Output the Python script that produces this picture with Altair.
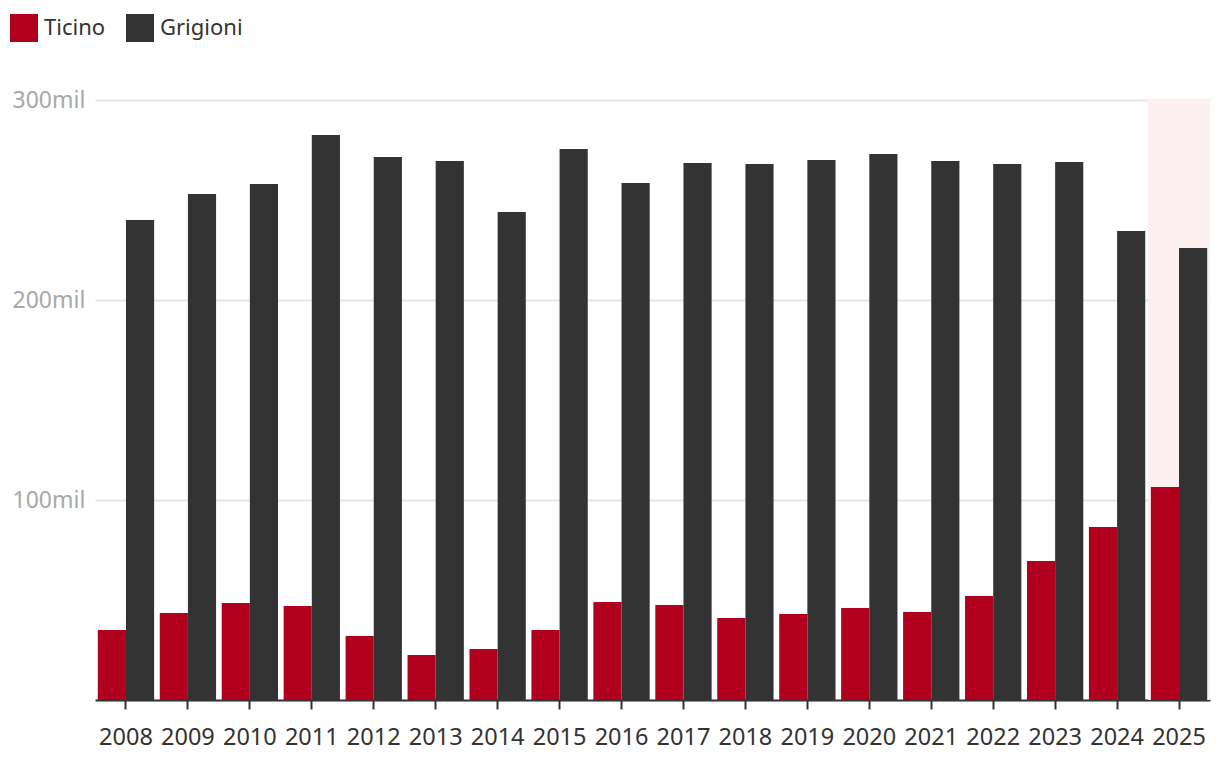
import altair as alt
import pandas as pd

years = [str(y) for y in range(2008, 2026)]
ticino = [35000, 43500, 48500, 47000, 32000, 22500, 25500, 35000, 49000, 47500,
          41000, 43000, 46000, 44000, 52000, 69500, 86500, 106500]
grigioni = [240000, 253000, 258000, 282500, 271500, 269500, 244000, 275500, 258500, 268500,
            268000, 270000, 273000, 269500, 268000, 269000, 234500, 226000]
regions = ["Ticino", "Grigioni"]
colors = ["#b0001e", "#333333"]
highlight_years = ["2025"]
y_ticks = [0, 100000, 200000, 300000]

rows = []
for yr, t, g in zip(years, ticino, grigioni):
    rows.append({"anno": yr, "regione": "Ticino", "valore": t})
    rows.append({"anno": yr, "regione": "Grigioni", "valore": g})
df = pd.DataFrame(rows)
hl = pd.DataFrame({"anno": highlight_years, "valore": [y_ticks[-1]] * len(highlight_years), "bottom": [0] * len(highlight_years)})

FONT = "Noto Sans"
xscale = alt.Scale(domain=years, paddingInner=0, paddingOuter=0)
yscale = alt.Scale(domain=[0, y_ticks[-1]], nice=False)

x_axis = alt.Axis(title=None, labelAngle=0, labelFont=FONT, labelFontSize=23.5, labelColor="#333333",
                  labelPadding=16, tickSize=9, tickWidth=2, tickColor="#333333",
                  domainColor="#333333", domainWidth=2, grid=False)
y_axis = alt.Axis(title=None, values=y_ticks, ticks=False, tickSize=0, domain=False,
                  labelAlign="left", labelPadding=83, labelBaseline="middle",
                  labelFont=FONT, labelFontSize=23, labelColor="#a8a8a8",
                  labelExpr="datum.value == 0 ? '' : format(datum.value / 1000, 'd') + 'mil'",
                  gridColor="#e6e6e6", gridWidth=2)

band = alt.Chart(hl).mark_bar(color="#fcf0f0").encode(
    x=alt.X("anno:N", scale=xscale, sort=years, axis=x_axis),
    y=alt.Y("valore:Q", scale=yscale, axis=y_axis),
    y2="bottom:Q",
)

bars = alt.Chart(df).mark_bar().encode(
    x=alt.X("anno:N", scale=xscale, sort=years, axis=x_axis),
    xOffset=alt.XOffset("regione:N", sort=regions,
                        scale=alt.Scale(domain=regions, paddingInner=0, paddingOuter=0.1)),
    y=alt.Y("valore:Q", scale=yscale, axis=y_axis),
    color=alt.Color("regione:N", sort=regions,
                    scale=alt.Scale(domain=regions, range=colors),
                    legend=alt.Legend(title=None, orient="none", legendX=-85, legendY=-86,
                                      direction="horizontal", symbolType="square",
                                      symbolSize=784, symbolStrokeWidth=0, labelFont=FONT,
                                      labelFontSize=22, labelColor="#333333", labelOffset=6,
                                      columnPadding=20, padding=0)),
)

chart = alt.layer(band, bars).properties(
    width=1115, height=600,
    autosize=alt.AutoSizeParams(type="none"),
    padding={"left": 95, "top": 100, "right": 10, "bottom": 68},
).configure_view(stroke=None)

chart.save("out.html", embed_options={"renderer": "svg", "actions": False})
